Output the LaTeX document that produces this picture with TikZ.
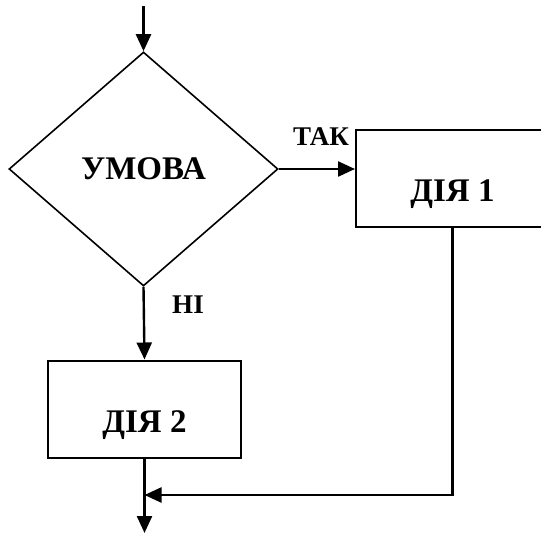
\documentclass[tikz,border=0pt]{standalone}
\usepackage{fontspec}
\setmainfont{Liberation Serif}
\usetikzlibrary{arrows.meta,shapes.geometric}

\begin{document}
\begin{tikzpicture}[x=1pt, y=-1pt,
    every node/.style={font=\bfseries\fontsize{33}{39}\selectfont},
    flow/.style={-{Triangle[length=17pt,width=15pt]}, line width=2.4pt},
    actbox/.style={draw, line width=2pt, minimum width=193pt, minimum height=97pt,
      inner sep=0pt, text height=52pt, text depth=6pt},
    answer/.style={font=\bfseries\fontsize{27}{32}\selectfont, inner sep=0pt}]
  \clip[use as bounding box] (0,0) rectangle (541,535);

  % Blocks
  \node[diamond, draw, line width=1.6pt, minimum width=269pt, minimum height=234pt,
    inner sep=0pt, aspect=1.15] (cond) at (143.5,169) {УМОВА};
  \node[actbox] (act1) at (452.5,178.5) {ДІЯ 1};
  \node[actbox] (act2) at (144.5,409) {ДІЯ 2};

  % Labels
  \node[answer] (yes) at (321,137) {ТАК};
  \node[answer] (no) at (188,304.5) {НІ};

  % Connectors
  \coordinate (start) at (143.5,6);
  \coordinate (join) at (144.5,495);
  \coordinate (stop) at (144.5,533);
  \draw[flow] (start) -- (cond.north);
  \draw[flow] (cond.east) -- (cond.east -| act1.west);
  \draw[flow] (cond.south) -- (act2.north);
  \draw[flow] (act1.south) |- (join);
  \draw[flow] (act2.south) -- (stop);
\end{tikzpicture}
\end{document}
